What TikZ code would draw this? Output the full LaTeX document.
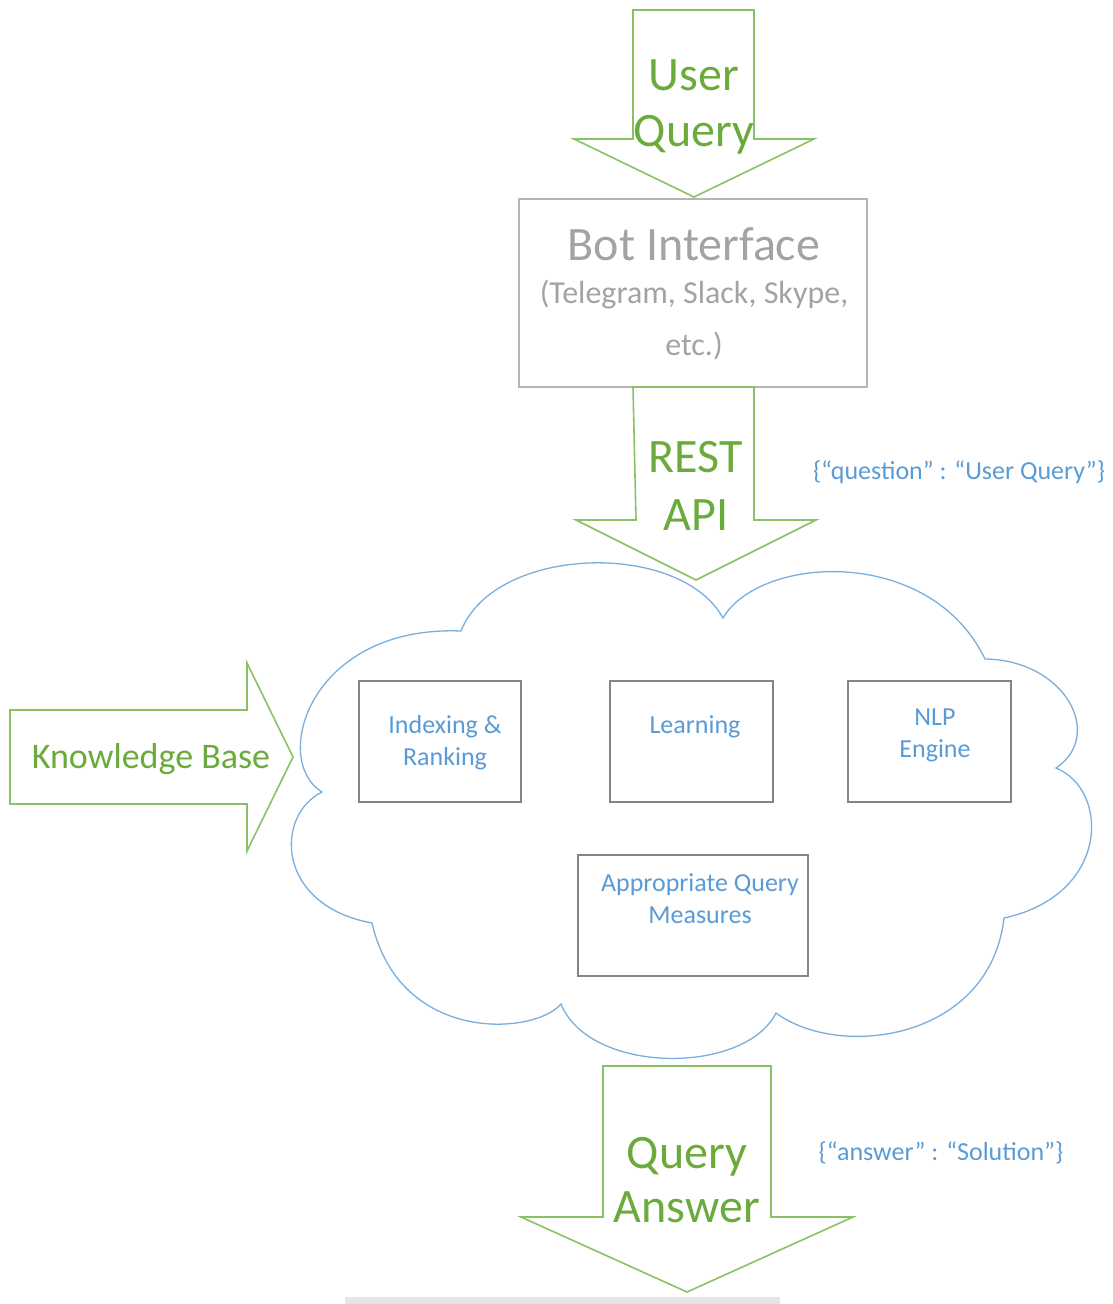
\documentclass[tikz,border=0pt]{standalone}
\usepackage{fontspec}
\setmainfont{Carlito}
\definecolor{arrowgreen}{HTML}{88C264}
\definecolor{textgreen}{HTML}{6AAB3C}
\definecolor{cloudblue}{HTML}{7AAEDF}
\definecolor{labelblue}{HTML}{5B9BD5}
\definecolor{botgray}{HTML}{B5B5B5}
\definecolor{bottext}{HTML}{A3A3A3}
\definecolor{innergray}{HTML}{858585}

\begin{document}
\begin{tikzpicture}[x=1pt,y=-1pt,
    blockarrow/.style={draw=arrowgreen, line width=1.6pt, fill=white, line join=miter},
    bigtext/.style={text=textgreen, font=\fontsize{48}{50}\selectfont, anchor=base, inner sep=0pt},
    smalltext/.style={text=labelblue, font=\fontsize{26}{28}\selectfont, anchor=base, inner sep=0pt},
    unit/.style={draw=innergray, line width=1.8pt}]

    \useasboundingbox (0,0) rectangle (1112,1304);

    % user query arrow
    \draw[blockarrow] (633,10) -- (754,10) -- (754,139) -- (814,139) -- (694,197)
        -- (574,139) -- (633,139) -- cycle;
    \node[bigtext] (user) at (694,90) {User};
    \node[bigtext] (query) at (694,146) {Query};

    % bot interface
    \draw[botgray, line width=1.8pt] (519,199) rectangle (867,387);
    \node[anchor=base, inner sep=0pt, text=bottext, font=\fontsize{48}{50}\selectfont] (bot) at (694,260) {Bot Interface};
    \node[anchor=base, inner sep=0pt, text=bottext, font=\fontsize{32}{34}\selectfont] (apps) at (694,303) {(Telegram, Slack, Skype,};
    \node[anchor=base, inner sep=0pt, text=bottext, font=\fontsize{32}{34}\selectfont] (etc) at (694,355) {etc.)};

    % rest api arrow
    \draw[blockarrow] (633,387) -- (754,387) -- (754,520) -- (816,520) -- (696,580)
        -- (576,520) -- (636,520) -- cycle;
    \node[bigtext] (rest) at (696,472) {REST};
    \node[bigtext] (api) at (696,530) {API};
    \node[smalltext] (qjson) at (959,479) {\{“question” : “User Query”\}};

    % the cloud
    \draw[cloudblue, line width=1.3pt, fill=white]
        (461,631) .. controls (495,545) and (680,540) .. (723,618)
        .. controls (760,555) and (930,545) .. (985,659)
        .. controls (1065,660) and (1105,735) .. (1056,768)
        .. controls (1110,790) and (1110,895) .. (1004,918)
        .. controls (990,1040) and (840,1060) .. (776,1013)
        .. controls (745,1075) and (590,1075) .. (561,1004)
        .. controls (535,1035) and (400,1045) .. (372,923)
        .. controls (275,905) and (275,815) .. (322,792)
        .. controls (270,760) and (310,625) .. cycle;

    % knowledge base arrow
    \draw[blockarrow] (10,710) -- (247,710) -- (247,663) -- (293,757) -- (247,851)
        -- (247,804) -- (10,804) -- cycle;
    \node[anchor=base, inner sep=0pt, text=textgreen, font=\fontsize{36}{38}\selectfont] (kb) at (151,768) {Knowledge Base};

    % units inside the cloud
    \draw[unit] (359,681) rectangle (521,802);
    \node[smalltext] (idx) at (445,733) {Indexing \&};
    \node[smalltext] (rank) at (445,765) {Ranking};

    \draw[unit] (610,681) rectangle (773,802);
    \node[smalltext] (learn) at (695,733) {Learning};

    \draw[unit] (848,681) rectangle (1011,802);
    \node[smalltext] (nlp) at (935,725) {NLP};
    \node[smalltext] (engine) at (935,757) {Engine};

    \draw[unit] (578,855) rectangle (808,976);
    \node[smalltext] (approp) at (700,891) {Appropriate Query};
    \node[smalltext] (measures) at (700,923) {Measures};

    % query answer arrow
    \draw[blockarrow] (603,1066) -- (771,1066) -- (771,1217) -- (853,1217) -- (687,1292)
        -- (521,1217) -- (603,1217) -- cycle;
    \node[bigtext] (qry) at (687,1168) {Query};
    \node[bigtext] (answer) at (687,1222) {Answer};
    \node[smalltext] (ajson) at (941,1160) {\{“answer” : “Solution”\}};

    \fill[gray!20] (345,1297) rectangle (780,1304);

\end{tikzpicture}
\end{document}
